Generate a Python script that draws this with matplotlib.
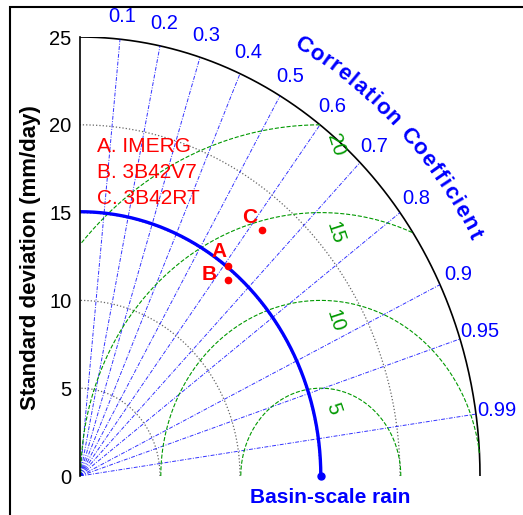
import numpy as np
from matplotlib import pyplot as plt
from matplotlib.patches import Rectangle

plt.rcParams['font.family'] = ['Liberation Sans', 'DejaVu Sans']

# reference (observed) standard deviation, mm/day
ref_std = 15.05
ref_name = "Basin-scale rain"

# products compared against the basin-scale rain
model_tags = ["A", "B", "C"]
model_names = ["IMERG", "3B42V7", "3B42RT"]
model_std = [15.15, 14.51, 18.04]
model_corr = [0.612, 0.639, 0.630]

# grid definitions
corr_ticks = [0.1, 0.2, 0.3, 0.4, 0.5, 0.6, 0.7, 0.8, 0.9, 0.95, 0.99]
std_grid = [5, 10, 15, 20]
rms_grid = [5, 10, 15, 20]
std_max = 25
std_ticks = [0, 5, 10, 15, 20, 25]

blue = (0, 0, 1)
green = (0, 0.6, 0)
red = (1, 0, 0)

fig = plt.figure(figsize=(5.23, 5.15), dpi=100)
ax = fig.add_axes([80 / 523, 39 / 515, 441.6 / 523, 439 / 515])
ax.set_xlim(0, 27.6)
ax.set_ylim(0, std_max)
for side in ["top", "right", "bottom"]:
    ax.spines[side].set_visible(False)
ax.spines["left"].set_linewidth(1.2)
ax.set_xticks([])
ax.set_yticks(std_ticks)
ax.tick_params(axis="y", length=0, pad=6, labelsize=14.5)

theta = np.linspace(0, np.pi / 2, 300)

# standard deviation circles
for s in std_grid:
    ax.plot(s * np.cos(theta), s * np.sin(theta), color="0.4", ls=":", lw=0.9)
ax.plot(std_max * np.cos(theta), std_max * np.sin(theta), color="k", lw=1.2)

# correlation rays and their labels
for c in corr_ticks:
    a = np.arccos(c)
    ax.plot([0, std_max * np.cos(a)], [0, std_max * np.sin(a)],
            color=blue, ls=(0, (4, 1.5, 1, 1.5)), lw=0.7, alpha=0.8)
    ax.text(26.3 * np.cos(a), 26.3 * np.sin(a), f"{c:g}", color=blue,
            fontsize=14.5, ha="center", va="center")

# centred RMS difference circles, clipped to the diagram quadrant
phi = np.linspace(0, np.pi, 600)
for r in rms_grid:
    x = ref_std + r * np.cos(phi)
    y = r * np.sin(phi)
    keep = (x >= 0) & (np.hypot(x, y) <= std_max)
    x = np.where(keep, x, np.nan)
    y = np.where(keep, y, np.nan)
    ax.plot(x, y, color=green, ls="--", lw=0.8)
    a = np.pi / 2 - np.arcsin(1.0 / r)
    ax.text(ref_std + (r - 1.1) * np.cos(a), (r - 1.1) * np.sin(a), str(r),
            color=green, fontsize=14.5, rotation=-72, ha="center", va="center")

# reference arc and point
ax.plot(ref_std * np.cos(theta), ref_std * np.sin(theta), color=blue, lw=2.4)
ax.plot(ref_std, 0, "o", color=blue, ms=5, clip_on=False, zorder=5)
ax.text(ref_std + 0.6, -1.2, ref_name, color=blue, fontsize=15, fontweight="bold",
        ha="center", va="center", clip_on=False)

# products
label_offsets = [(-7, 10), (-14, 4), (-9, 9)]
for tag, s, c, off in zip(model_tags, model_std, model_corr, label_offsets):
    a = np.arccos(c)
    px, py = s * np.cos(a), s * np.sin(a)
    ax.plot(px, py, "o", color=red, ms=4.5, zorder=6)
    ax.annotate(tag, (px, py), xytext=off, textcoords="offset points",
                color=red, fontsize=15, fontweight="bold", ha="center", va="center")

for i, (tag, name) in enumerate(zip(model_tags, model_names)):
    ax.text(1.06, 18.74 - 1.48 * i, f"{tag}. {name}", color=red, fontsize=15,
            ha="left", va="center")

# curved axis title along the outer rim
title = "Correlation Coefficient"
char_w = {"C": .722, "o": .611, "r": .389, "e": .556, "l": .278, "a": .556,
          "t": .333, "i": .278, "n": .611, " ": .278, "f": .333, "c": .556}
w = np.array([char_w[ch] + 0.12 for ch in title])
centres = np.cumsum(w) - w / 2
frac = (centres - centres[0]) / (centres[-1] - centres[0])
th0, th1, r_title = np.radians(60.4), np.radians(29.2), 28.2
for ch, f in zip(title, frac):
    t = th0 + (th1 - th0) * f
    p0 = ax.transData.transform((r_title * np.cos(t), r_title * np.sin(t)))
    p1 = ax.transData.transform((r_title * np.cos(t - 0.01), r_title * np.sin(t - 0.01)))
    rot = np.degrees(np.arctan2(p1[1] - p0[1], p1[0] - p0[0]))
    ax.text(r_title * np.cos(t), r_title * np.sin(t), ch, color=blue, fontsize=16,
            fontweight="bold", rotation=rot, rotation_mode="anchor",
            ha="center", va="center", clip_on=False)

fig.text(31 / 523, 1 - 258 / 515, "Standard deviation (mm/day)", rotation=90,
         fontsize=16, fontweight="bold", ha="center", va="center")

# frame around the whole figure
fig.add_artist(Rectangle((10 / 523, -0.05), 1.2, 1 - 7 / 515 + 0.05,
                         transform=fig.transFigure, fill=False, lw=1.5, color="k"))

fig.savefig("out.png", dpi=100)
